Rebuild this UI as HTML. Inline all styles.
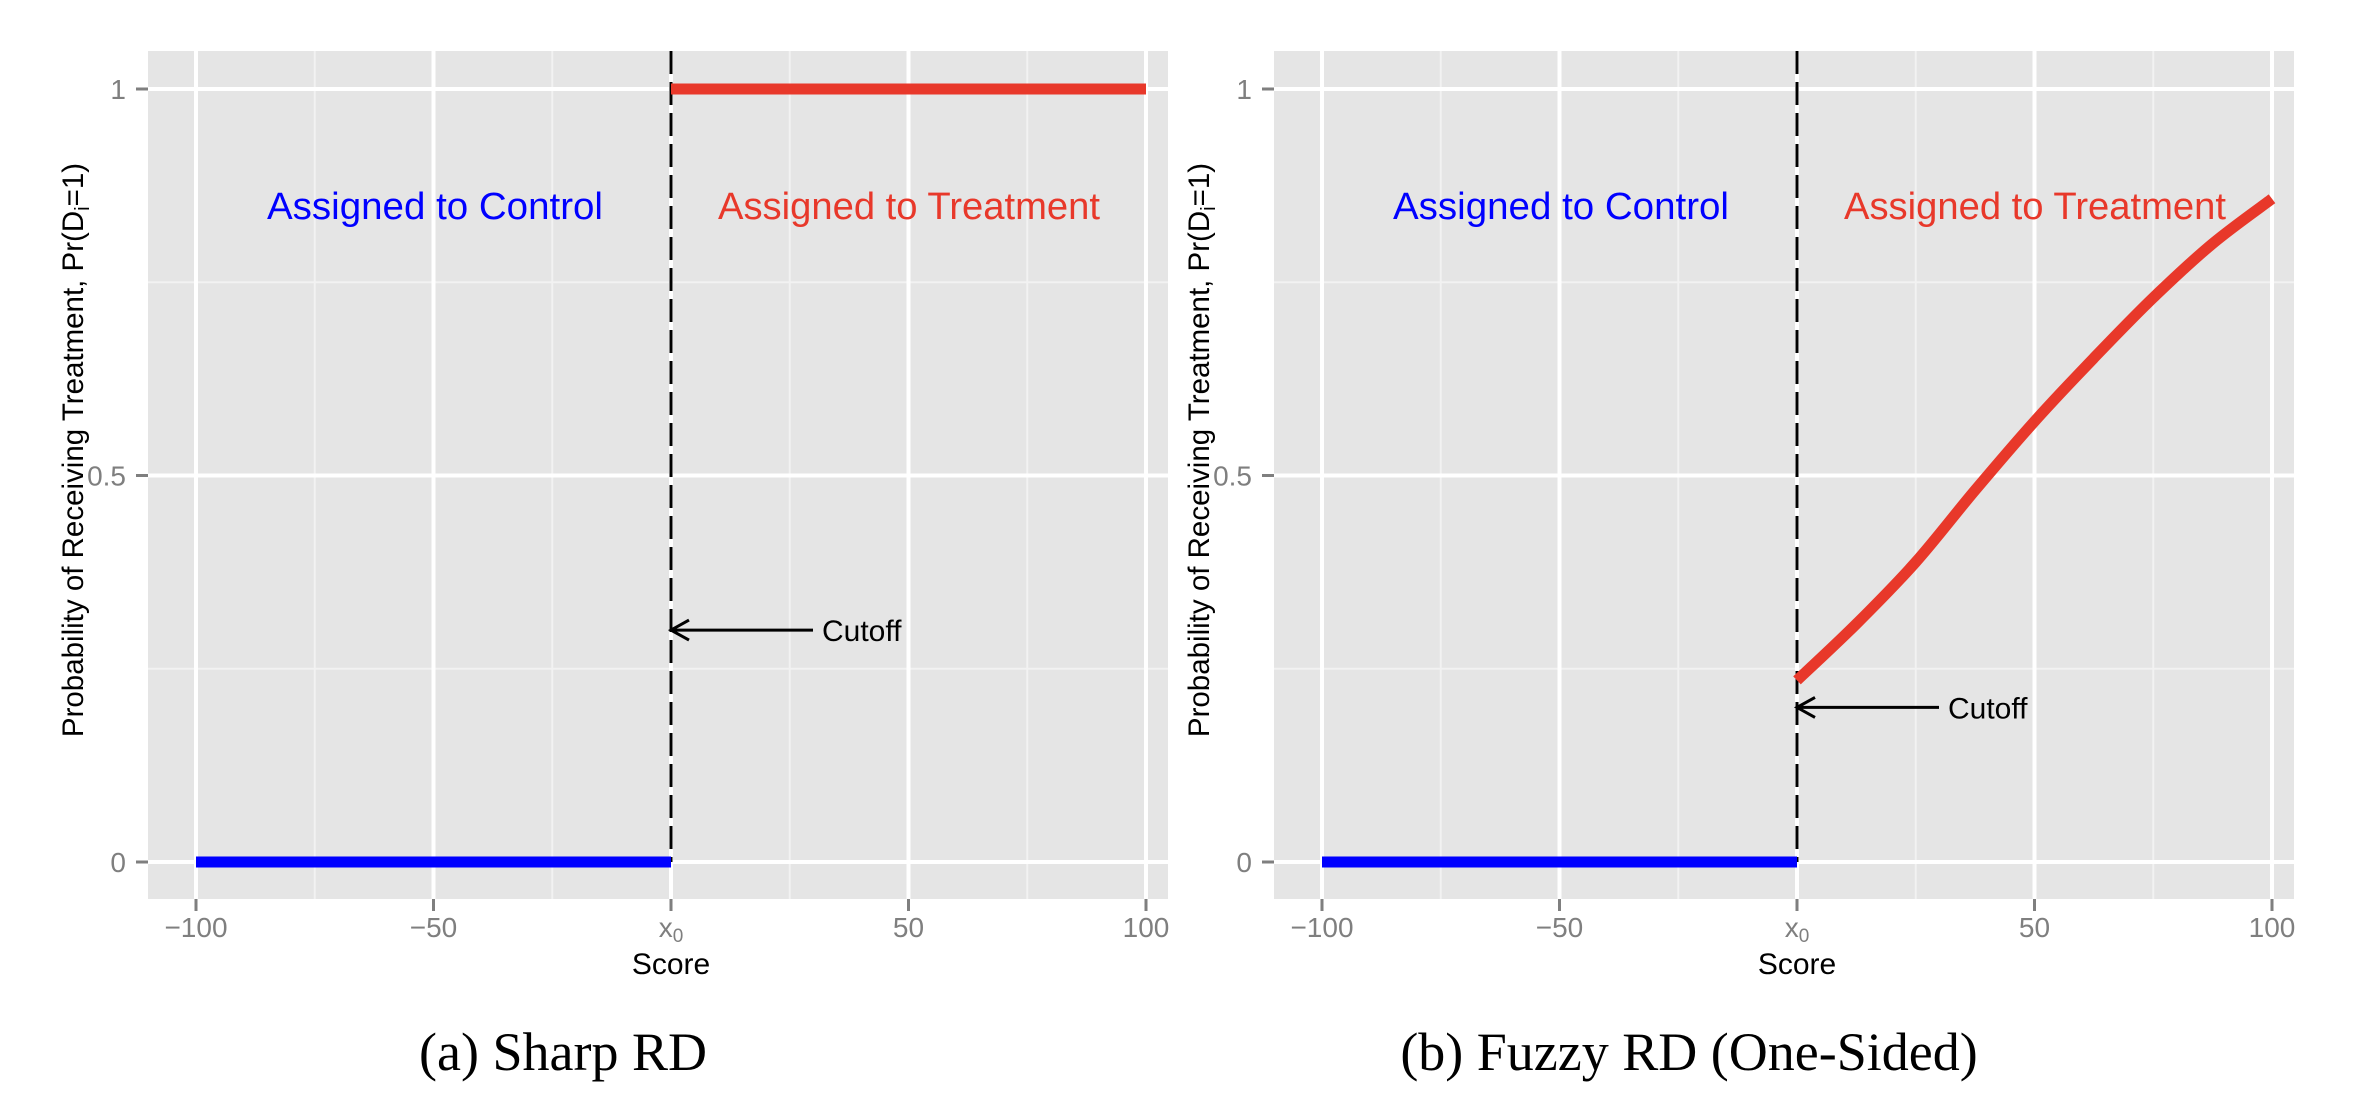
<!DOCTYPE html>
<html><head><meta charset="utf-8"><style>
html,body{margin:0;padding:0;background:#fff;}
svg{display:block;font-family:"Liberation Sans",sans-serif;}
</style></head><body>
<svg id="fig" width="2378" height="1102" viewBox="0 0 2378 1102" xmlns="http://www.w3.org/2000/svg"></svg>
<script>
const xMajor = [-100, -50, 0, 50, 100];
const xMajorLabels = ["\u2212100", "\u221250", "x0", "50", "100"];
const xMinor = [-75, -25, 25, 75];
const yMajor = [0, 0.5, 1];
const yMajorLabels = ["0", "0.5", "1"];
const yMinor = [0.25, 0.75];
const controlX = [-100, 0];
const controlY = [0, 0];
const sharpTreatX = [0, 100];
const sharpTreatY = [1, 1];
const fuzzyTreatX = [0, 12.5, 25, 37.5, 50, 62.5, 75, 87.5, 100];
const fuzzyTreatY = [0.235, 0.308, 0.388, 0.481, 0.570, 0.652, 0.730, 0.800, 0.858];
const sharpCutoffY = 0.30;
const fuzzyCutoffY = 0.20;

const NS = "http://www.w3.org/2000/svg";
const svg = document.getElementById("fig");
function el(tag, attrs, parent) {
  const e = document.createElementNS(NS, tag);
  for (const k in attrs) e.setAttribute(k, attrs[k]);
  (parent || svg).appendChild(e);
  return e;
}
const yScale = v => 862 - v * 773;

function smoothPath(pts) {
  let d = "M" + pts[0][0] + "," + pts[0][1];
  for (let i = 0; i < pts.length - 1; i++) {
    const p0 = pts[i - 1] || pts[i], p1 = pts[i], p2 = pts[i + 1], p3 = pts[i + 2] || p2;
    const c1x = p1[0] + (p2[0] - p0[0]) / 6, c1y = p1[1] + (p2[1] - p0[1]) / 6;
    const c2x = p2[0] - (p3[0] - p1[0]) / 6, c2y = p2[1] - (p3[1] - p1[1]) / 6;
    d += ` C${c1x},${c1y} ${c2x},${c2y} ${p2[0]},${p2[1]}`;
  }
  return d;
}

function panel(off, name, treatX, treatY, cutY, caption) {
  const xScale = v => off + 671 + v * 4.75;
  const g = el("g", {});
  
  
  const bg = el("rect", {x: off + 148, y: 51, width: 1020, height: 848, fill: "#e5e5e5"}, g);
  
  
  xMinor.forEach(v => {
    const l = el("line", {x1: xScale(v), x2: xScale(v), y1: 51, y2: 899, stroke: "#f2f2f2", "stroke-width": 2}, g);
    
    
  });
  yMinor.forEach(v => {
    const l = el("line", {x1: off + 148, x2: off + 1168, y1: yScale(v), y2: yScale(v), stroke: "#f2f2f2", "stroke-width": 2}, g);
    
    
  });
  xMajor.forEach((v, i) => {
    const l = el("line", {x1: xScale(v), x2: xScale(v), y1: 51, y2: 899, stroke: "#fff", "stroke-width": 4}, g);
    
    
    const t = el("line", {x1: xScale(v), x2: xScale(v), y1: 899, y2: 911, stroke: "#7f7f7f", "stroke-width": 3}, g);
    
    
    const tx = el("text", {x: xScale(v), y: 937, "font-size": 28, fill: "#7f7f7f", "text-anchor": "middle"}, g);
    
    
    const lab = xMajorLabels[i];
    if (lab === "x0") {
      tx.textContent = "x";
      const s = el("tspan", {"font-size": 19, dy: 5}, tx);
      s.textContent = "0";
    } else tx.textContent = lab;
  });
  yMajor.forEach((v, i) => {
    const l = el("line", {x1: off + 148, x2: off + 1168, y1: yScale(v), y2: yScale(v), stroke: "#fff", "stroke-width": 4}, g);
    
    
    const t = el("line", {x1: off + 136, x2: off + 148, y1: yScale(v), y2: yScale(v), stroke: "#7f7f7f", "stroke-width": 3}, g);
    
    
    const tx = el("text", {x: off + 126, y: yScale(v) + 10, "font-size": 28, fill: "#7f7f7f", "text-anchor": "end"}, g);
    
    
    tx.textContent = yMajorLabels[i];
  });
  const d = el("line", {x1: xScale(0), x2: xScale(0), y1: 51, y2: yScale(0), stroke: "#000", "stroke-width": 3, "stroke-dasharray": "23 8"}, g);
  
  
  const c = el("polyline", {points: controlX.map((x, i) => xScale(x) + "," + yScale(controlY[i])).join(" "), fill: "none", stroke: "#0000ff", "stroke-width": 11}, g);
  
  
  const pts = treatX.map((x, i) => [xScale(x), yScale(treatY[i])]);
  const tr = el("path", {d: smoothPath(pts), fill: "none", stroke: "#e8382a", "stroke-width": 11, "stroke-linejoin": "round"}, g);
  
  
  const ay = yScale(cutY), ax = xScale(0);
  const ar = el("path", {d: `M${ax + 142},${ay} L${ax},${ay} M${ax + 18},${ay - 10} L${ax},${ay} L${ax + 18},${ay + 10}`, fill: "none", stroke: "#000", "stroke-width": 3}, g);
  
  
  const ct = el("text", {x: ax + 151, y: ay + 11, "font-size": 30, fill: "#000"}, g);
  
  
  ct.textContent = "Cutoff";
  const t1 = el("text", {x: off + 267, y: 219, "font-size": 38, fill: "#0000ff", textLength: 336, lengthAdjust: "spacingAndGlyphs"}, g);
  
  
  t1.textContent = "Assigned to Control";
  const t2 = el("text", {x: off + 718, y: 219, "font-size": 38, fill: "#e8382a", textLength: 382, lengthAdjust: "spacingAndGlyphs"}, g);
  
  
  t2.textContent = "Assigned to Treatment";
  const xt = el("text", {x: off + 671, y: 974, "font-size": 30, fill: "#000", "text-anchor": "middle"}, g);
  
  
  xt.textContent = "Score";
  const yt = el("text", {x: 0, y: 0, "font-size": 29.5, fill: "#000", "text-anchor": "middle", transform: `translate(${off + 83},450) rotate(-90)`}, g);
  
  
  yt.textContent = "Probability of Receiving Treatment, Pr(D";
  const sub = el("tspan", {"font-size": 20, dy: 6}, yt);
  sub.textContent = "i";
  const rest = el("tspan", {dy: -6}, yt);
  rest.textContent = "=1)";
  const cap = el("text", {x: off + 563, y: 1070, "font-size": 54, fill: "#000", "text-anchor": "middle", "font-family": "Liberation Serif, serif"}, g);
  
  
  cap.textContent = caption;
}
panel(0, "sharp-rd-panel", sharpTreatX, sharpTreatY, sharpCutoffY, "(a) Sharp RD");
panel(1126, "fuzzy-rd-panel", fuzzyTreatX, fuzzyTreatY, fuzzyCutoffY, "(b) Fuzzy RD (One-Sided)");
</script>
</body></html>
